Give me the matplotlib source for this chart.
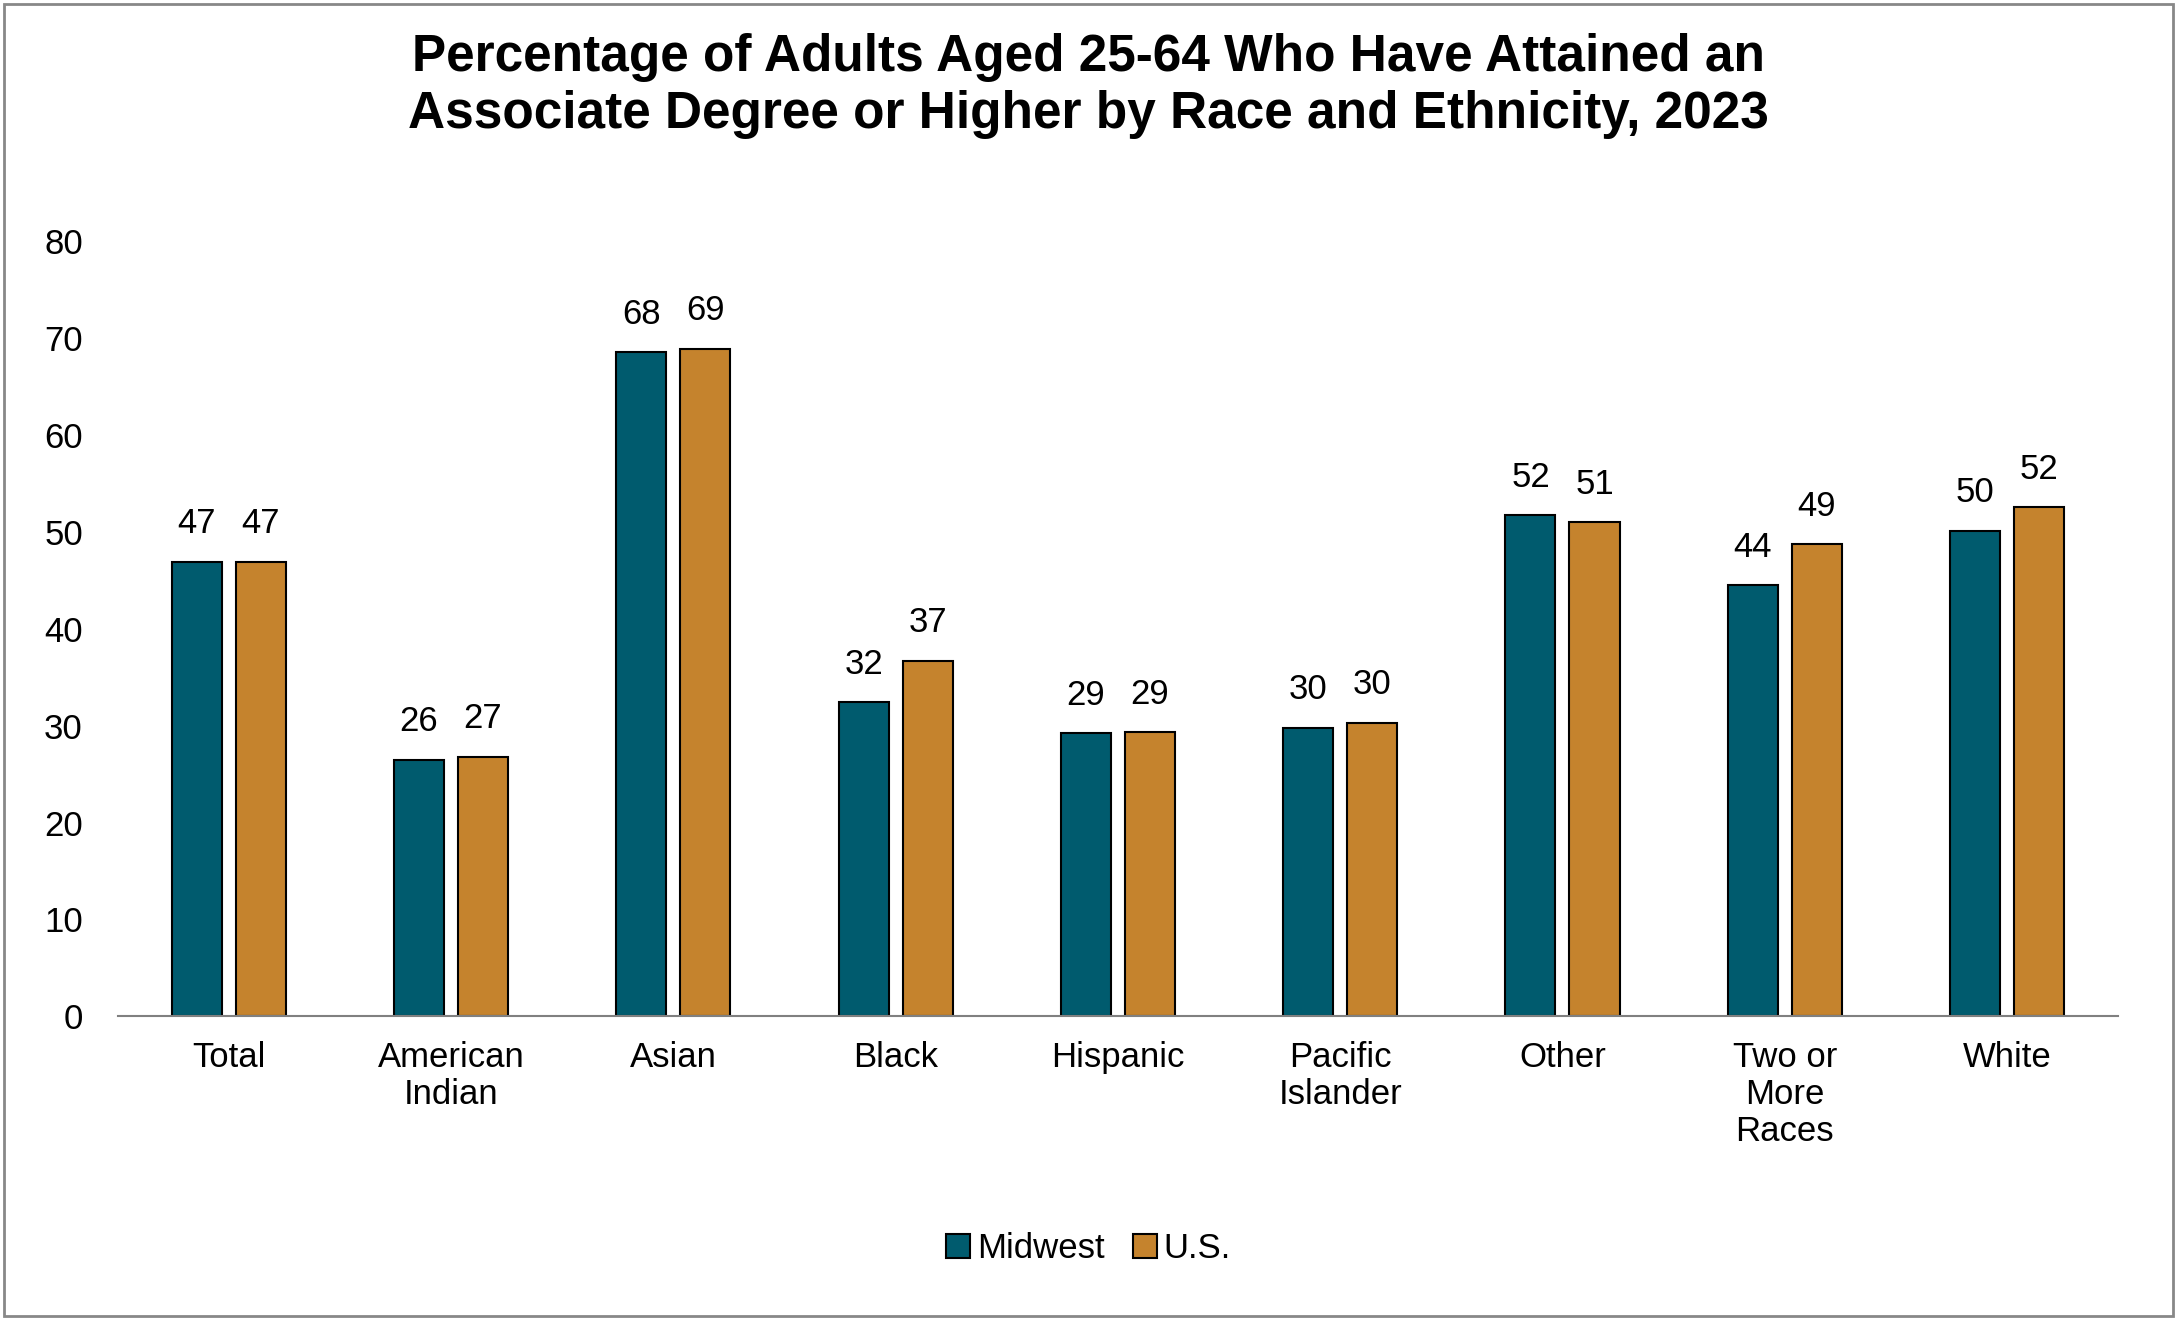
import matplotlib
matplotlib.use("Agg")
import matplotlib.pyplot as plt
import numpy as np

categories = ["Total", "American\nIndian", "Asian", "Black", "Hispanic", "Pacific\nIslander", "Other", "Two or\nMore\nRaces", "White"]
midwest = [46.9, 26.5, 68.5, 32.4, 29.2, 29.8, 51.7, 44.5, 50.1]
us = [46.9, 26.8, 68.9, 36.7, 29.3, 30.3, 51.0, 48.7, 52.5]
series_names = ["Midwest", "U.S."]

plt.rcParams['font.family'] = ['Liberation Sans', 'DejaVu Sans']
fig = plt.figure(figsize=(21.77, 13.2), dpi=100)
ax = fig.add_axes([0.054, 0.23, 0.919, 0.5875])
x = np.arange(len(categories))
w = 0.225
off = 0.144
c1, c2 = "#005b6e", "#c5832d"
b1 = ax.bar(x - off, midwest, w, color=c1, edgecolor="black", linewidth=1.5, label=series_names[0])
b2 = ax.bar(x + off, us, w, color=c2, edgecolor="black", linewidth=1.5, label=series_names[1])
for bars, vals in ((b1, midwest), (b2, us)):
    for b, v in zip(bars, vals):
        ax.text(b.get_x() + b.get_width() / 2, v + 2.2, f"{round(v)}", ha="center", va="bottom", fontsize=25)
ax.set_ylim(0, 80)
ax.set_xlim(-0.5, len(categories) - 0.5)
ax.set_yticks(range(0, 81, 10))
ax.set_xticks(x)
ax.set_xticklabels(categories, fontsize=25, va="top", linespacing=1.15)
ax.tick_params(axis="y", labelsize=25, length=0, pad=25)
ax.tick_params(axis="x", length=0, pad=18)
for s in ["top", "right", "left"]:
    ax.spines[s].set_visible(False)
ax.spines["bottom"].set_color("#808080")
ax.spines["bottom"].set_linewidth(1.5)
fig.suptitle("Percentage of Adults Aged 25-64 Who Have Attained an\nAssociate Degree or Higher by Race and Ethnicity, 2023",
             fontsize=37, fontweight="bold", y=0.975, linespacing=1.2)
fig.legend(loc="center", bbox_to_anchor=(0.5, 0.054), ncol=2, frameon=False, fontsize=25,
           handlelength=0.7, handleheight=0.7, handletextpad=0.2, columnspacing=0.8)
fig.patches.append(plt.Rectangle((0.002, 0.003), 0.996, 0.994, transform=fig.transFigure,
                                 fill=False, edgecolor="#888888", linewidth=2))
fig.savefig("out.png", dpi=100)
